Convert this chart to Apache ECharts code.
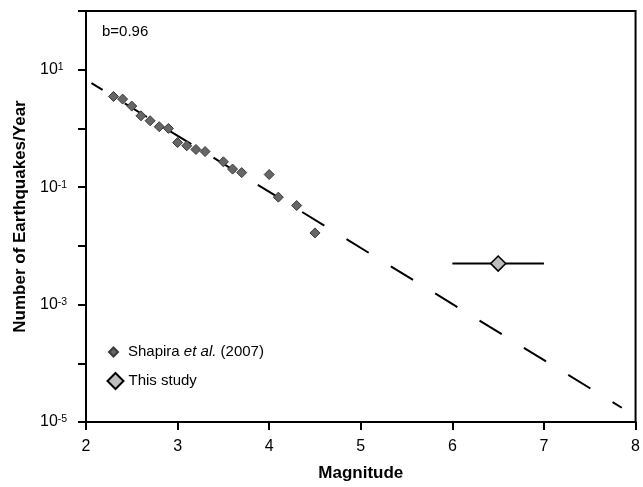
<!DOCTYPE html>
<html>
<head>
<meta charset="utf-8">
<script src="https://cdn.jsdelivr.net/npm/echarts@6/dist/echarts.min.js"></script>
<style>
html,body{margin:0;padding:0;background:#fff;}
#chart{width:643px;height:487px;}
</style>
</head>
<body>
<div id="chart"></div>
<script>
// ---- data ----
var shapiraMag  = [2.3, 2.4, 2.5, 2.6, 2.7, 2.8, 2.9, 3.0, 3.1, 3.2, 3.3, 3.5, 3.6, 3.7, 4.0, 4.1, 4.3, 4.5];
var shapiraRate = [3.5, 3.16, 2.4, 1.64, 1.35, 1.07, 1.0, 0.575, 0.506, 0.438, 0.404, 0.27, 0.203, 0.177, 0.164, 0.0676, 0.0486, 0.0166];
var studyMag = [6.5];
var studyRate = [0.005];
var studyMagRange = [6.0, 7.0];
var fitMag  = [2.06, 7.85];
var fitRate = [5.93, 1.75e-5];
var xTicks = [2, 3, 4, 5, 6, 7, 8];
var yLabelExps = [1, -1, -3, -5];
var bLabel = 'b=0.96';

var FONT = "'Liberation Sans', Arial, Helvetica, sans-serif";

function zip(a, b) { return a.map(function (v, i) { return [v, b[i]]; }); }

var chart = echarts.init(document.getElementById('chart'), null, {renderer: 'canvas'});
chart.setOption({
  animation: false,
  backgroundColor: '#fff',
  textStyle: {fontFamily: FONT},
  title: {
    text: bLabel, left: 97, top: 19,
    textStyle: {fontFamily: FONT, fontSize: 15, fontWeight: 'normal', color: '#000'}
  },
  grid: {left: 86, right: 5, top: 11, bottom: 65, show: true, borderColor: '#000', borderWidth: 2},
  legend: [{
    data: ['Shapira et al. (2007)'],
    left: 108, top: 344.5, orient: 'vertical', padding: 0,
    itemWidth: 9, itemHeight: 9,
    formatter: function () { return '{n|Shapira }{i|et al.}{n| (2007)}'; },
    textStyle: {fontFamily: FONT, fontSize: 15, color: '#000', padding: [0, 0, 0, 5],
      rich: {n: {fontFamily: FONT, fontSize: 15, lineHeight: 18, color: '#000'},
             i: {fontFamily: FONT, fontSize: 15, lineHeight: 18, fontStyle: 'italic', color: '#000'}}}
  }, {
    data: ['This study'],
    left: 106.5, top: 372, orient: 'vertical', padding: 0,
    itemWidth: 16, itemHeight: 16,
    textStyle: {fontFamily: FONT, fontSize: 15, color: '#000', lineHeight: 18}
  }],
  xAxis: {
    type: 'value', min: xTicks[0], max: xTicks[xTicks.length - 1], interval: 1,
    name: 'Magnitude', nameLocation: 'middle', nameGap: 43,
    nameTextStyle: {fontFamily: FONT, fontSize: 17, fontWeight: 'bold', color: '#000'},
    axisLine: {show: true, lineStyle: {color: '#000', width: 2}},
    axisTick: {show: true, length: 8, inside: false, lineStyle: {color: '#000', width: 2}},
    axisLabel: {fontFamily: FONT, fontSize: 16, color: '#000', margin: 17},
    splitLine: {show: false}
  },
  yAxis: {
    type: 'log', logBase: 10, min: 1e-5, max: 100, interval: 1,
    name: 'Number of Earthquakes/Year', nameLocation: 'middle', nameGap: 54, nameRotate: 90,
    nameTextStyle: {fontFamily: FONT, fontSize: 17, fontWeight: 'bold', color: '#000'},
    axisLine: {show: true, lineStyle: {color: '#000', width: 2}},
    axisTick: {show: true, length: 8, inside: false, lineStyle: {color: '#000', width: 2}},
    axisLabel: {
      align: 'left', margin: 46,
      formatter: function (v) {
        var e = Math.round(Math.log10(v));
        if (yLabelExps.indexOf(e) < 0) return '';
        return '{b|10}{s|' + e + '}';
      },
      rich: {
        b: {fontFamily: FONT, fontSize: 16, lineHeight: 16, color: '#000'},
        s: {fontFamily: FONT, fontSize: 10.5, lineHeight: 11, verticalAlign: 'top', color: '#000'}
      }
    },
    splitLine: {show: false}
  },
  series: [{
    name: 'fit', type: 'line', data: zip(fitMag, fitRate),
    showSymbol: false, symbol: 'none', silent: true, z: 1,
    lineStyle: {color: '#000', width: 2, type: [26, 26], dashOffset: 13}
  }, {
    name: 'Shapira et al. (2007)', type: 'scatter', data: zip(shapiraMag, shapiraRate),
    symbol: 'diamond', symbolSize: 10, z: 3,
    itemStyle: {color: '#666666', borderColor: '#3a3a3a', borderWidth: 1, opacity: 1}
  }, {
    name: 'errbar', type: 'line', data: zip(studyMagRange, [studyRate[0], studyRate[0]]),
    showSymbol: false, symbol: 'none', silent: true, z: 2,
    lineStyle: {color: '#000', width: 2}
  }, {
    name: 'This study', type: 'scatter', data: zip(studyMag, studyRate),
    symbol: 'diamond', symbolSize: 15, z: 4,
    itemStyle: {color: '#bdbdbd', borderColor: '#000', borderWidth: 1.6, opacity: 1}
  }]
});
</script>
</body>
</html>
